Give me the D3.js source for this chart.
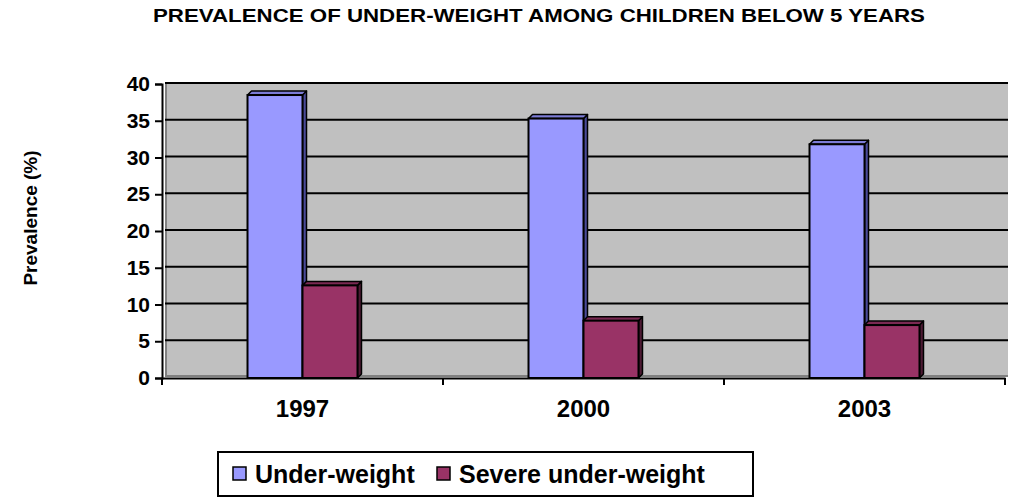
<!DOCTYPE html>
<html>
<head>
<meta charset="utf-8">
<script src="https://cdn.jsdelivr.net/npm/d3@7"></script>
<style>
  html, body { margin: 0; padding: 0; background: #fff; }
  svg { display: block; font-family: "Liberation Sans", Arial, sans-serif; font-weight: bold; }
</style>
</head>
<body>
<svg id="chart" width="1013" height="499"></svg>
<script>
// Survey years and prevalence (%) of under-weight among children under 5
const years = ["1997", "2000", "2003"];
const seriesNames = ["Under-weight", "Severe under-weight"];
const underWeight = [38.5, 35.3, 31.8];
const severeUnderWeight = [12.6, 7.8, 7.2];
const yTicks = [0, 5, 10, 15, 20, 25, 30, 35, 40];

const values = [underWeight, severeUnderWeight];
const colors = {
  front: ["#9999ff", "#993366"],
  top:   ["#7c7cd6", "#7a2952"],
  side:  ["#4a4a99", "#4d1a33"]
};

const svg = d3.select("#chart");
const left = 162, right = 1005, bottom = 378, topY = 84;
const depth = 4;
const FONT = "'Liberation Sans', Arial, sans-serif";

const x = d3.scaleBand().domain(years).range([left, right]).paddingInner(0).paddingOuter(0);
const xs = d3.scaleBand().domain(seriesNames).range([0, x.bandwidth()]).paddingInner(0).paddingOuter(1.555);
const y = d3.scaleLinear().domain([0, 40]).range([bottom, topY]);

// Title
svg.append("text")
  .attr("x", 153).attr("y", 22)
  .attr("textLength", 772).attr("lengthAdjust", "spacingAndGlyphs")
  .style("font-size", "18px")
  .text("PREVALENCE OF UNDER-WEIGHT AMONG CHILDREN BELOW 5 YEARS");

// Back wall
const wallX0 = left + 3, wallX1 = right + 3;
svg.append("rect")
  .attr("x", wallX0).attr("y", y(40) - 1)
  .attr("width", wallX1 - wallX0).attr("height", (bottom - 2) - (y(40) - 1))
  .attr("fill", "#c0c0c0");
svg.append("line").attr("x1", wallX0 + 1).attr("x2", wallX0 + 1)
  .attr("y1", y(40)).attr("y2", bottom - 2)
  .attr("stroke", "#808080").attr("stroke-width", 2);
svg.append("line").attr("x1", wallX0).attr("x2", wallX1)
  .attr("y1", bottom - 2).attr("y2", bottom - 2)
  .attr("stroke", "#808080").attr("stroke-width", 2);

// Gridlines
svg.append("g").selectAll("line")
  .data(yTicks.filter(d => d > 0))
  .join("line")
  .attr("x1", wallX0).attr("x2", wallX1)
  .attr("y1", d => y(d) - 1).attr("y2", d => y(d) - 1)
  .attr("stroke", "#000").attr("stroke-width", 2);

// Bars (3D style: side, top, front)
const bars = [];
years.forEach((yr, i) => {
  seriesNames.forEach((s, j) => {
    bars.push({ yr, s, j, v: values[j][i] });
  });
});

const bg = svg.append("g");
bars.forEach(b => {
  const bx = x(b.yr) + xs(b.s);
  const bw = xs.bandwidth();
  const by = y(b.v);
  const g = bg.append("g");
  g.append("path")
    .attr("d", `M${bx + bw},${by} L${bx + bw + depth},${by - depth} L${bx + bw + depth},${bottom - depth} L${bx + bw},${bottom} Z`)
    .attr("fill", colors.side[b.j]).attr("stroke", "#000").attr("stroke-width", 1.5).attr("stroke-linejoin", "round");
  g.append("path")
    .attr("d", `M${bx},${by} L${bx + depth},${by - depth} L${bx + bw + depth},${by - depth} L${bx + bw},${by} Z`)
    .attr("fill", colors.top[b.j]).attr("stroke", "#000").attr("stroke-width", 1.5).attr("stroke-linejoin", "round");
  g.append("rect")
    .attr("x", bx).attr("y", by).attr("width", bw).attr("height", bottom - by)
    .attr("fill", colors.front[b.j]).attr("stroke", "#000").attr("stroke-width", 2);
});

// Y axis
const yAxis = svg.append("g").attr("transform", `translate(${left},0)`)
  .call(d3.axisLeft(y).tickValues(yTicks).tickSize(7).tickPadding(5));
yAxis.attr("font-size", 21).attr("font-family", FONT).attr("font-weight", "bold");
yAxis.select(".domain").attr("stroke", "#000").attr("stroke-width", 2);
yAxis.selectAll(".tick line").attr("stroke", "#000").attr("stroke-width", 2);
yAxis.selectAll(".tick text")
  .style("font-size", "21px").style("font-weight", "bold")
  .style("font-family", FONT).attr("fill", "#000");

// X axis
const xAxis = svg.append("g").attr("transform", `translate(0,${bottom})`)
  .call(d3.axisBottom(x).tickSize(0).tickPadding(22));
xAxis.attr("font-size", 24).attr("font-family", FONT).attr("font-weight", "bold");
xAxis.select(".domain").attr("stroke", "#000").attr("stroke-width", 2);
xAxis.selectAll(".tick text")
  .style("font-size", "24px").style("font-weight", "bold")
  .style("font-family", FONT).attr("fill", "#000");
const bounds = years.map(d => x(d)).concat([right]);
svg.append("g").selectAll("line").data(bounds).join("line")
  .attr("x1", d => d).attr("x2", d => d)
  .attr("y1", bottom).attr("y2", bottom + 7)
  .attr("stroke", "#000").attr("stroke-width", 2);

// Y axis title
svg.append("text")
  .attr("transform", "translate(37,218) rotate(-90)")
  .attr("text-anchor", "middle")
  .style("font-size", "19px")
  .text("Prevalence (%)");

// Legend
const legend = svg.append("g");
legend.append("rect")
  .attr("x", 218).attr("y", 452).attr("width", 535).attr("height", 44)
  .attr("fill", "#fff").attr("stroke", "#000").attr("stroke-width", 2);
const legendX = [233, 437];
seriesNames.forEach((s, j) => {
  legend.append("rect")
    .attr("x", legendX[j]).attr("y", 467).attr("width", 13).attr("height", 13)
    .attr("fill", colors.front[j]).attr("stroke", "#000").attr("stroke-width", 1.5);
  legend.append("text")
    .attr("x", legendX[j] + 22).attr("y", 483)
    .style("font-size", "25px")
    .text(s);
});
</script>
</body>
</html>
